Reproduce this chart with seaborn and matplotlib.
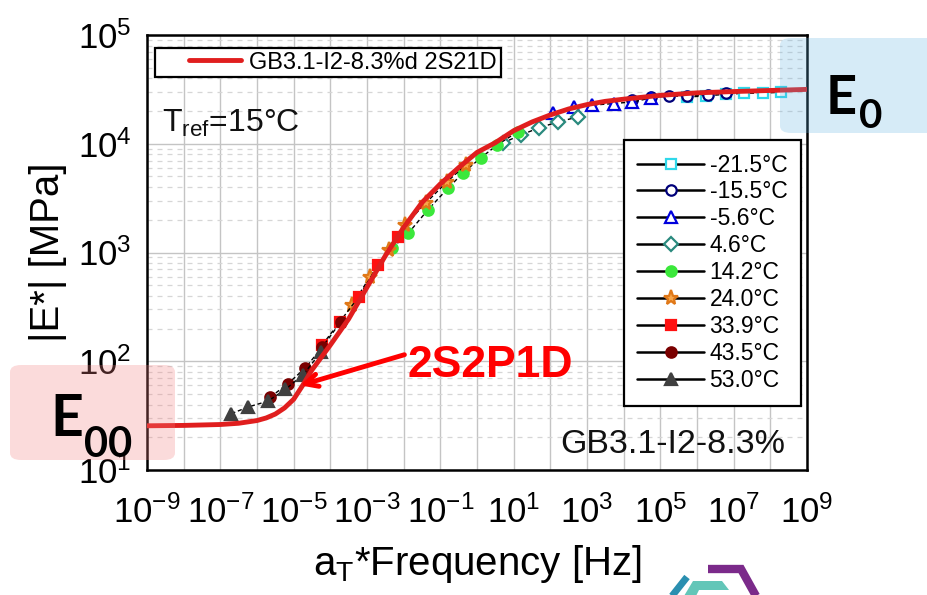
import numpy as np
import pandas as pd
import matplotlib
matplotlib.use('Agg')
import matplotlib.pyplot as plt
import seaborn as sns
from matplotlib.lines import Line2D
from matplotlib.patches import FancyBboxPatch, Polygon
from matplotlib.ticker import LogLocator, FuncFormatter, NullFormatter
from matplotlib.legend_handler import HandlerLine2D

# ---------------- data ----------------
curve_freq = [1e-9, 1e-8, 1e-7, 3.16e-7, 1e-6, 1.78e-6, 3.16e-6, 5.62e-6, 1e-5, 1.78e-5,
              3.16e-5, 1e-4, 3.16e-4, 1e-3, 3.16e-3, 1e-2, 3.16e-2, 1e-1, 3.16e-1, 1.0,
              3.16, 10.0, 31.6, 100.0, 316.0, 1e3, 3.16e3, 1e4, 1e5, 1e6, 1e7, 1e8, 1e9]
curve_E = [25.5, 25.7, 26.2, 26.9, 28.5, 30.1, 32.7, 37.2, 44.7, 60.3,
           83.2, 141, 245, 479, 933, 1700, 2880, 4270, 6030, 8320,
           10230, 13180, 15850, 18410, 20890, 22910, 24550, 25700, 27860, 29380, 30200, 30900, 31620]

temp_labels = ['-21.5°C', '-15.5°C', '-5.6°C', '4.6°C', '14.2°C',
               '24.0°C', '33.9°C', '43.5°C', '53.0°C']

f_m21_5 = [5.5e5, 1.78e6, 6.2e6, 1.95e7, 6.2e7, 2.0e8]
E_m21_5 = [26900, 27540, 28510, 29110, 29240, 29720]

f_m15_5 = [1.74e4, 5.5e4, 1.7e5, 5.5e5, 1.95e6, 6.2e6]
E_m15_5 = [25100, 26900, 27230, 27540, 28180, 29510]

f_m5_6 = [115, 447, 1410, 5500, 1.74e4, 5.5e4]
E_m5_6 = [19050, 21630, 22650, 23440, 24270, 26300]

f_4_6 = [5.0, 15.5, 48, 158, 562]
E_4_6 = [10160, 12020, 13960, 15850, 17620]

f_14_2 = [4.9e-3, 1.35e-2, 4.5e-2, 0.16, 0.41, 1.26, 3.6, 12.9]
E_14_2 = [1100, 1510, 2450, 3890, 5370, 7410, 9770, 12900]

f_24_0 = [4.0e-4, 1.2e-3, 4.1e-3, 1.1e-2, 4.0e-2, 0.15, 0.49]
E_24_0 = [329, 596, 1054, 1790, 2850, 4450, 6380]

f_33_9 = [6.0e-5, 1.8e-4, 5.9e-4, 2.0e-3, 7.2e-3]
E_33_9 = [141, 230, 390, 767, 1390]

f_43_5 = [2.3e-6, 6.8e-6, 2.1e-5, 6.0e-5, 1.9e-4]
E_43_5 = [46.8, 61.7, 87.1, 135, 229]

f_53_0 = [2.0e-7, 5.8e-7, 2.0e-6, 5.9e-6, 1.8e-5, 5.6e-5]
E_53_0 = [33, 38, 43, 55, 75, 122]

series_f = [f_m21_5, f_m15_5, f_m5_6, f_4_6, f_14_2, f_24_0, f_33_9, f_43_5, f_53_0]
series_E = [E_m21_5, E_m15_5, E_m5_6, E_4_6, E_14_2, E_24_0, E_33_9, E_43_5, E_53_0]

# ---------------- styles ----------------
styles = [
    dict(marker='s', mfc='white', mec='#2fd8ea', ms=7.5),
    dict(marker='o', mfc='white', mec='#00007a', ms=7.5),
    dict(marker='^', mfc='white', mec='#0000dd', ms=8.5),
    dict(marker='D', mfc='white', mec='#2a8a7e', ms=7.5),
    dict(marker='o', mfc='#3be83b', mec='#3be83b', ms=7.5),
    dict(marker='*', mfc='#f7a64a', mec='#e07818', ms=11),
    dict(marker='s', mfc='#ff1010', mec='#ff1010', ms=7.5),
    dict(marker='o', mfc='#7a0000', mec='#7a0000', ms=7.5),
    dict(marker='^', mfc='#404040', mec='#404040', ms=8.5),
]

sns.set_style('white')
plt.rcParams['font.family'] = ['Liberation Sans', 'DejaVu Sans']
plt.rcParams['mathtext.fontset'] = 'custom'
plt.rcParams['mathtext.rm'] = 'Liberation Sans'
plt.rcParams['mathtext.it'] = 'Liberation Sans:italic'
plt.rcParams['mathtext.bf'] = 'Liberation Sans:bold'
plt.rcParams['text.color'] = 'black'
plt.rcParams['axes.labelcolor'] = 'black'
plt.rcParams['xtick.color'] = 'black'
plt.rcParams['ytick.color'] = 'black'
plt.rcParams['legend.labelcolor'] = 'black'

W, H = 927, 595
fig = plt.figure(figsize=(W / 100, H / 100), dpi=100)
ax = fig.add_axes([147 / W, 1 - 470 / H, 660 / W, 435 / H])
ax.set_xscale('log')
ax.set_yscale('log')

for f, E, st in zip(series_f, series_E, styles):
    df = pd.DataFrame({'f': f, 'E': E})
    sns.lineplot(data=df, x='f', y='E', ax=ax, color='black', lw=1.0,
                 linestyle=(0, (3, 2)), marker=st['marker'], markersize=st['ms'],
                 markerfacecolor=st['mfc'], markeredgecolor=st['mec'],
                 markeredgewidth=1.6, sort=False, estimator=None, legend=False,
                 zorder=3)

curve_df = pd.DataFrame({'f': curve_freq, 'E': curve_E})
sns.lineplot(data=curve_df, x='f', y='E', ax=ax, color='#e01e1e', lw=3.5,
             sort=False, estimator=None, legend=False, zorder=5)

ax.set_xlim(1e-9, 1e9)
ax.set_ylim(10, 1e5)

ax.xaxis.set_major_locator(LogLocator(base=10, numticks=40))
ax.xaxis.set_minor_locator(LogLocator(base=10, subs=np.arange(2, 10), numticks=400))
ax.yaxis.set_major_locator(LogLocator(base=10, numticks=20))
ax.yaxis.set_minor_locator(LogLocator(base=10, subs=np.arange(2, 10), numticks=200))


def xfmt(v, p):
    e = int(round(np.log10(v)))
    return r'$10^{%d}$' % e if e % 2 != 0 else ''


def yfmt(v, p):
    e = int(round(np.log10(v)))
    return r'$10^{%d}$' % e


ax.xaxis.set_major_formatter(FuncFormatter(xfmt))
ax.yaxis.set_major_formatter(FuncFormatter(yfmt))
ax.xaxis.set_minor_formatter(NullFormatter())
ax.yaxis.set_minor_formatter(NullFormatter())

ax.grid(which='major', color='#c4c4c4', lw=1.0, ls='-')
ax.yaxis.grid(which='minor', color='#d6d6d6', lw=0.9, ls=(0, (4, 4)))
ax.set_axisbelow(True)

for s in ax.spines.values():
    s.set_linewidth(1.8)
    s.set_color('black')
ax.tick_params(which='major', direction='out', length=7, width=1.6,
               labelsize=25, color='black', labelcolor='black')
ax.tick_params(axis='x', which='major', pad=11)
ax.tick_params(axis='y', which='major', pad=4)
ax.tick_params(which='minor', direction='out', length=4, width=1.2, color='black')
ax.tick_params(top=False, right=False)

ax.set_xlabel(r'a$_{\mathrm{T}}$*Frequency [Hz]', fontsize=29, labelpad=10)
ax.set_ylabel('|E*| [MPa]', fontsize=29, labelpad=8)


class OffsetLineHandler(HandlerLine2D):
    def create_artists(self, legend, orig_handle, xdescent, ydescent,
                       width, height, fontsize, trans):
        y = height / 2 - ydescent
        x0 = -xdescent + width * 0.37
        x1 = -xdescent + width
        line = Line2D([x0, x1], [y, y], color=orig_handle.get_color(),
                      lw=orig_handle.get_linewidth())
        line.set_transform(trans)
        return [line]


# legends
h1 = [Line2D([], [], color='#e01e1e', lw=3.5)]
leg1 = ax.legend(h1, ['GB3.1-I2-8.3%d 2S21D'], loc='upper left',
                 bbox_to_anchor=(0.012, 0.97), borderaxespad=0, fontsize=17,
                 frameon=True, fancybox=False, edgecolor='black', framealpha=1,
                 handlelength=3.5, handletextpad=0.35, borderpad=0.15,
                 handler_map={Line2D: OffsetLineHandler()})
leg1.get_frame().set_linewidth(1.6)
ax.add_artist(leg1)

h2 = [Line2D([], [], color='black', lw=1.8, marker=st['marker'], markersize=st['ms'],
             markerfacecolor=st['mfc'], markeredgecolor=st['mec'], markeredgewidth=1.6)
      for st in styles]
leg2 = ax.legend(h2, temp_labels, loc='upper right', bbox_to_anchor=(0.991, 0.759),
                 borderaxespad=0, fontsize=16.5, frameon=True, fancybox=False,
                 edgecolor='black', framealpha=1, handlelength=2.9,
                 handletextpad=0.25, labelspacing=0.17, borderpad=0.6)
leg2.get_frame().set_linewidth(1.6)

ax.text(0.0227, 0.777, r'T$_{\mathrm{ref}}$=15°C', transform=ax.transAxes,
        fontsize=23, va='baseline', ha='left', color='#111111')
ax.text(0.626, 0.039, 'GB3.1-I2-8.3%', transform=ax.transAxes,
        fontsize=24.5, va='baseline', ha='left', color='#111111')

# 2S2P1D annotation
ax.text(0.395, 0.214, '2S2P1D', transform=ax.transAxes, fontsize=32,
        fontweight='bold', color='#ff0000', va='baseline', ha='left', zorder=8)
ax.annotate('', xy=(1.5e-5, 60), xycoords='data',
            xytext=(0.39, 0.265), textcoords='axes fraction',
            arrowprops=dict(arrowstyle='->,head_length=0.9,head_width=0.45',
                            color='#ff0000', lw=3.5, shrinkA=0, shrinkB=0),
            zorder=8)

# E0 / E00 call-out boxes


def fbox(x0, y0, x1, y1, color, alpha):
    p = FancyBboxPatch((x0 / W, 1 - y1 / H), (x1 - x0) / W, (y1 - y0) / H,
                       boxstyle='round,pad=0,rounding_size=0.012',
                       transform=fig.transFigure, facecolor=color, edgecolor='none',
                       alpha=alpha, zorder=10)
    fig.add_artist(p)


fbox(780, 38, 940, 133, '#5fb0e0', 0.25)
fbox(10, 365, 175, 460, '#f47f7f', 0.28)

fig.text(826 / W, 1 - 114 / H, 'E', fontsize=39, fontweight='bold',
         family='Lato', ha='left', va='baseline', zorder=11)
fig.text(859 / W, 1 - 128 / H, '0', fontsize=29, fontweight='bold',
         family='Lato', ha='left', va='baseline', zorder=11)
fig.text(50 / W, 1 - 436 / H, 'E', fontsize=41, fontweight='bold',
         family='Lato', ha='left', va='baseline', zorder=11)
fig.text(84 / W, 1 - 457 / H, '00', fontsize=30, fontweight='bold',
         family='Lato', ha='left', va='baseline', zorder=11)

# partial logo at the bottom edge


def px(pts):
    return [(x / W, 1 - y / H) for x, y in pts]


fig.add_artist(Line2D([672 / W, 687 / W], [1 - 596 / H, 1 - 577 / H],
                      transform=fig.transFigure, color='#2a8fb0', lw=5,
                      solid_capstyle='butt'))
fig.add_artist(Polygon(px([(684, 596), (693, 581), (722, 581), (729, 590), (699, 590), (696, 596)]),
                       closed=True, transform=fig.transFigure, facecolor='#63c6b8',
                       edgecolor='none'))
fig.add_artist(Line2D([708 / W, 741 / W, 756 / W], [1 - 569 / H, 1 - 569 / H, 1 - 596 / H],
                      transform=fig.transFigure, color='#7b2a8a', lw=6,
                      solid_joinstyle='miter', solid_capstyle='butt'))

fig.savefig('out.png', dpi=100, facecolor='white')
